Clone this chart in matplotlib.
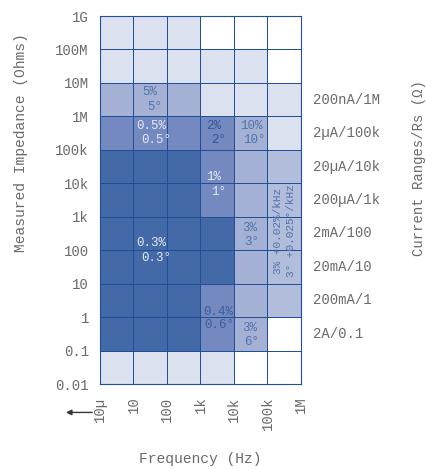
import numpy as np
import matplotlib.pyplot as plt
from matplotlib.colors import ListedColormap

plt.rcParams['font.family'] = ['Liberation Mono', 'DejaVu Sans Mono']

# frequency boundaries (columns) and impedance decades (rows)
freq_labels = ['10µ', '10', '100', '1k', '10k', '100k', '1M']
imp_labels = ['0.01', '0.1', '1', '10', '100', '1k', '10k', '100k', '1M', '10M', '100M', '1G']
imp_exp = np.arange(-2, 10)

# accuracy level of each cell, bottom row (0.01-0.1) first
# 0 none, 1 lightest, 2 medium, 3 light-medium, 4 medium-dark, 5 best
levels = np.array([
    [1, 1, 1, 1, 0, 0],
    [5, 5, 5, 4, 2, 0],
    [5, 5, 5, 4, 2, 3],
    [5, 5, 5, 5, 2, 3],
    [5, 5, 5, 5, 2, 3],
    [5, 5, 5, 4, 2, 3],
    [5, 5, 5, 4, 2, 3],
    [4, 4, 4, 4, 2, 1],
    [2, 2, 2, 1, 1, 1],
    [1, 1, 1, 1, 1, 0],
    [1, 1, 1, 0, 0, 0],
])
level_colors = ['#ffffff', '#dbe1ef', '#a4b1d4', '#b2bddb', '#7489bf', '#436aa6']

current_ranges = ['2A/0.1', '200mA/1', '20mA/10', '2mA/100',
                  '200µA/1k', '20µA/10k', '2µA/100k', '200nA/1M']
range_rows = np.arange(1, 9)

# cell notes: (x, y in decades, text, colour)
light_txt = '#e4e9f3'
blue_txt = '#5072ac'
notes = [
    (1.49, 6.73, '5%', blue_txt), (1.64, 6.28, '5°', blue_txt),
    (1.52, 5.71, '0.5%', light_txt), (1.67, 5.29, '0.5°', light_txt),
    (3.40, 5.71, '2%', '#2f5597'), (3.55, 5.29, '2°', '#2f5597'),
    (4.51, 5.71, '10%', blue_txt), (4.60, 5.29, '10°', blue_txt),
    (3.40, 4.19, '1%', light_txt), (3.55, 3.74, '1°', light_txt),
    (1.52, 2.21, '0.3%', light_txt), (1.67, 1.77, '0.3°', light_txt),
    (4.48, 2.66, '3%', blue_txt), (4.54, 2.24, '3°', blue_txt),
    (3.52, 0.15, '0.4%', '#3b5f9f'), (3.55, -0.24, '0.6°', '#3b5f9f'),
    (4.48, -0.33, '3%', blue_txt), (4.54, -0.75, '6°', blue_txt),
]
vnotes = [(5.30, 2.57, '3% +0.02%/kHz'), (5.70, 2.57, '3° +0.025°/kHz')]

gray = '#6a6a6a'
edge = '#1f4f98'

fig = plt.figure(figsize=(4.27, 4.69), dpi=100)
ax = fig.add_axes([100 / 427, 1 - 384 / 469, 201 / 427, 368 / 469])

xe = np.arange(len(freq_labels))
ax.pcolormesh(xe, imp_exp, levels, cmap=ListedColormap(level_colors),
              vmin=-0.5, vmax=5.5, edgecolors=edge, linewidth=0.6)
ax.set_xlim(0, 6)
ax.set_ylim(-2, 9)

for s in ax.spines.values():
    s.set_color(edge)
    s.set_linewidth(0.8)

ax.set_xticks(xe)
ax.set_xticklabels(freq_labels, rotation=90)
ax.set_yticks(imp_exp)
ax.set_yticklabels(imp_labels)
ax.tick_params(length=0, labelsize=10, labelcolor=gray)
ax.tick_params(axis='x', pad=9)
ax.tick_params(axis='y', pad=8)

ax.set_ylabel('Measured Impedance (Ohms)', fontsize=10.5, color=gray)
ax.yaxis.set_label_coords(-0.36, 0.655)
ax.set_xlabel('Frequency (Hz)', fontsize=10.5, color=gray)
ax.xaxis.set_label_coords(0.5, -0.185)

for x, y, t, c in notes:
    ax.text(x, y, t, ha='center', va='center', fontsize=9, color=c)
for x, y, t in vnotes:
    ax.text(x, y, t, ha='center', va='center', fontsize=8, color=blue_txt,
            rotation=90)

for r, lab in zip(range_rows, current_ranges):
    ax.text(6.35, r - 1.5, lab, ha='left', va='center', fontsize=10,
            color=gray, clip_on=False)

fig.text(419 / 427, 1 - 168 / 469, 'Current Ranges/Rs (Ω)', rotation=90,
         ha='center', va='center', fontsize=10, color=gray)

# arrow showing the low frequency end continues
ax.annotate('', xy=(-1.1, -2.85), xytext=(-0.15, -2.85),
            xycoords='data', annotation_clip=False,
            arrowprops=dict(arrowstyle='-|>', color='#333333', lw=1.0,
                            mutation_scale=8))

fig.savefig('out.png', dpi=100)
